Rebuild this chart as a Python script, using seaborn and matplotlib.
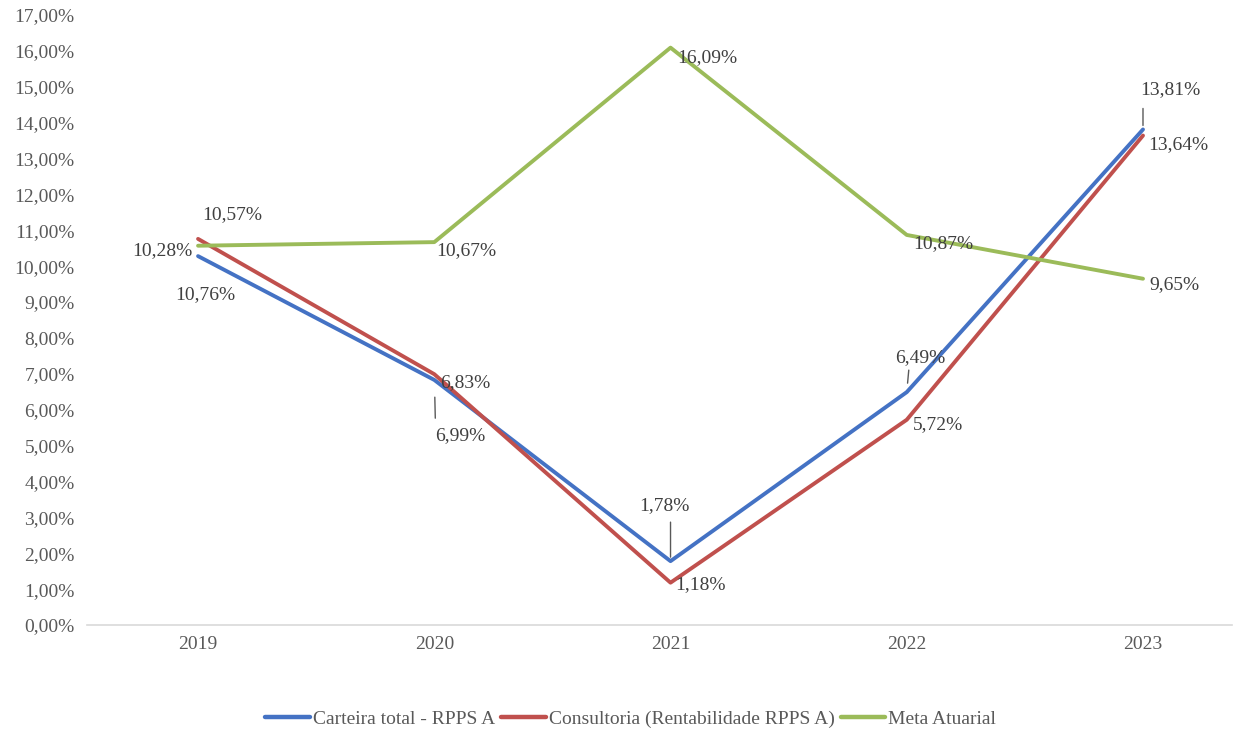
import matplotlib
matplotlib.use("Agg")
import matplotlib.pyplot as plt
import seaborn as sns
import pandas as pd

years = ["2019", "2020", "2021", "2022", "2023"]
carteira = [10.28, 6.83, 1.78, 6.49, 13.81]
consultoria = [10.76, 6.99, 1.18, 5.72, 13.64]
meta = [10.57, 10.67, 16.09, 10.87, 9.65]
series_names = ["Carteira total - RPPS A", "Consultoria (Rentabilidade RPPS A)", "Meta Atuarial"]
colors = ["#4472C4", "#C0504D", "#9BBB59"]

df = pd.DataFrame({
    "Ano": years * 3,
    "Valor": carteira + consultoria + meta,
    "Serie": sum([[n] * len(years) for n in series_names], []),
})
df["pos"] = df["Ano"].map({y: i for i, y in enumerate(years)})

sns.set_theme(style="white")
plt.rcParams["font.family"] = ["Liberation Serif", "DejaVu Serif"]

FS = 14
fig = plt.figure(figsize=(12.54, 7.38), dpi=100)
ax = fig.add_axes([0.0694, 0.1531, 0.9131, 0.8266])

sns.lineplot(data=df, x="pos", y="Valor", hue="Serie", hue_order=series_names,
             palette=colors, linewidth=2.8, ax=ax, legend=True, sort=False)

ax.set_xlim(-0.47, 4.377)
ax.set_ylim(0, 17)
ax.set_xticks(range(len(years)))
ax.set_xticklabels(years)
ax.set_yticks(range(0, 18))
ax.set_yticklabels([f"{v},00%" for v in range(0, 18)])
ax.set_xlabel("")
ax.set_ylabel("")
ax.tick_params(axis="both", labelsize=FS, colors="#595959", length=0)
ax.tick_params(axis="y", pad=9)
ax.tick_params(axis="x", pad=8)
for s in ["top", "right", "left"]:
    ax.spines[s].set_visible(False)
ax.spines["bottom"].set_color("#d9d9d9")
ax.spines["bottom"].set_linewidth(1.2)

# data labels: (series values, per-year label offsets in pixels,
#               per-year leader segment as (dx, start gap, end offset) in pixels)
label_specs = [
    (carteira,
     [(-36, 6), (31, -3), (-6, 56), (13, 35), (27, 40)],
     [None, None, (0, 4, 39), (2, 9, 22), (0, 4, 21)]),
    (consultoria,
     [(7, -56), (26, -61), (30, -2), (31, -5), (35, -9)],
     [None, (1, 23, -44), None, None, None]),
    (meta,
     [(34, 31), (32, -8), (37, -10), (37, -9), (31, -6)],
     [None] * 5),
]
PX_TO_PT = 72 / 100
for vals, offs, leaders in label_specs:
    for i, (v, off, lead) in enumerate(zip(vals, offs, leaders)):
        txt = f"{v:.2f}%".replace(".", ",")
        ax.annotate(txt, xy=(i, v), xytext=off, textcoords="offset pixels",
                    ha="center", va="center", fontsize=FS, color="#404040")
        if lead is not None:
            dx, gap, y1 = lead
            ax.annotate("", xy=(i, v), xytext=(dx, y1), textcoords="offset pixels",
                        arrowprops=dict(arrowstyle="-", color="#595959", lw=1.0,
                                        shrinkA=0, shrinkB=gap * PX_TO_PT),
                        annotation_clip=False)

handles, labels = ax.get_legend_handles_labels()
ax.legend_.remove()
for h in handles:
    h.set_linewidth(3.2)
fig.legend(handles, labels, loc="center", bbox_to_anchor=(0.503, 0.026), ncol=3,
           frameon=False, fontsize=FS, handlelength=2.3, columnspacing=0.3,
           handletextpad=0.15, labelcolor="#595959")

fig.savefig("out.png", dpi=100, facecolor="white")
